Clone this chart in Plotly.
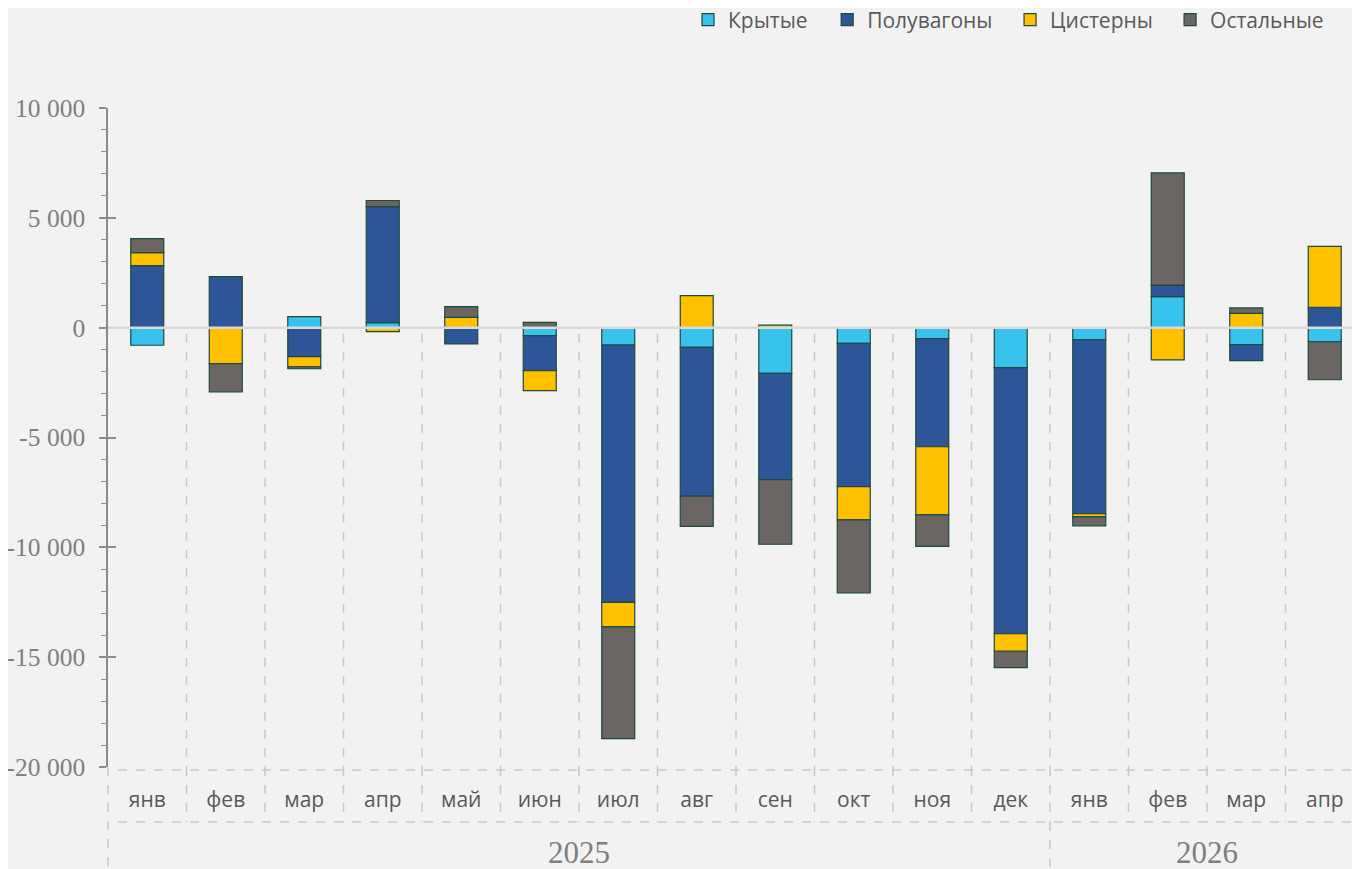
import plotly.graph_objects as go

months = ["янв", "фев", "мар", "апр", "май", "июн", "июл", "авг", "сен", "окт", "ноя", "дек",
          "янв", "фев", "мар", "апр"]
years = ["2025", "2026"]
year_month_counts = [12, 4]

krytye = [-800, 0, 500, 230, 0, -360, -790, -900, -2080, -710, -500, -1820, -550, 1410, -770, -640]
poluvagony = [2820, 2320, -1320, 5280, -740, -1600, -11720, -6770, -4840, -6530, -4920, -12110,
              -7920, 530, -730, 930]
cisterny = [600, -1640, -460, -180, 470, -910, -1110, 1460, 120, -1510, -3100, -800,
            -140, -1470, 650, 2770]
ostalnye = [630, -1280, -90, 280, 490, 240, -5090, -1380, -2940, -3320, -1440, -750,
            -410, 5110, 250, -1730]

series_names = ["Крытые", "Полувагоны", "Цистерны", "Остальные"]
series_values = [krytye, poluvagony, cisterny, ostalnye]
colors = ["#38c2ee", "#2e5597", "#ffc000", "#6b6664"]
legend_x = [0.4618, 0.5726, 0.7182, 0.8456]

y_ticks = [-20000, -15000, -10000, -5000, 0, 5000, 10000]

BG = "#f2f2f2"
GRID = "#c8c8c8"
AX = "#8c8c8c"

x = list(range(len(months)))

fig = go.Figure()
legend_layout = {}
for k, (name, vals, col, lx) in enumerate(zip(series_names, series_values, colors, legend_x)):
    lname = "legend" if k == 0 else f"legend{k + 1}"
    fig.add_trace(go.Bar(
        x=x, y=vals, name=name, legend=lname,
        marker=dict(color=col, line=dict(color="#1e4a3c", width=1.2)),
    ))
    legend_layout[lname] = dict(orientation="h", x=lx, xanchor="left", y=1.1335, yanchor="middle",
                                font=dict(family="Open Sans", size=21, color="#595959"),
                                bgcolor="rgba(0,0,0,0)")

def fmt(v):
    return f"{v:,}".replace(",", " ")

fig.update_layout(
    width=1360, height=869,
    paper_bgcolor=BG, plot_bgcolor=BG,
    barmode="relative", bargap=0.58,
    margin=dict(l=100, r=4, t=100, b=110, autoexpand=False),
    showlegend=True,
    xaxis=dict(range=[-0.5, len(months) - 0.5], tickvals=x, ticktext=months,
               showgrid=False, zeroline=False, showline=False, ticks="",
               tickfont=dict(family="Open Sans", size=21, color="#595959"),
               ticklabelstandoff=18),
    yaxis=dict(range=[-20000, 10000], tickvals=y_ticks, ticktext=[fmt(v) for v in y_ticks],
               showgrid=False, zeroline=False, showline=True, linecolor=AX, linewidth=1.5,
               ticks="outside", ticklen=7, tickcolor=AX, tickwidth=1.5,
               minor=dict(dtick=1000, ticks="outside", ticklen=5, tickcolor=AX, tickwidth=1.2),
               tickfont=dict(family="Liberation Serif", size=25.5, color="#7f7f7f"),
               ticklabelstandoff=9),
    yaxis2=dict(range=[-20000, 10000], overlaying="y", side="left", tickvals=y_ticks,
                showticklabels=False, showgrid=False, zeroline=False, showline=False,
                ticks="inside", ticklen=8, tickcolor=AX, tickwidth=1.5),
    **legend_layout,
)
# invisible trace to show the secondary (inside tick) axis
fig.add_trace(go.Scatter(x=[0], y=[0], yaxis="y2", mode="markers",
                         marker=dict(opacity=0), showlegend=False, hoverinfo="skip"))

shapes = []
# zero line over bars
shapes.append(dict(type="line", xref="paper", yref="y", x0=0, x1=1, y0=0, y1=0,
                   line=dict(color="#d9d9d9", width=2.5), layer="above"))
# month separators
for i in range(len(months) - 1):
    xb = i + 0.5
    shapes.append(dict(type="line", xref="x", yref="y", x0=xb, x1=xb, y0=-280, y1=-20000,
                       line=dict(color=GRID, width=1.5, dash="dash"), layer="below"))
    shapes.append(dict(type="line", xref="x", yref="paper", x0=xb, x1=xb, y0=0, y1=-0.0835,
                       line=dict(color=GRID, width=1.5, dash="dash"), layer="below"))
# year separator through year row
start = 0
for cnt in year_month_counts[:-1]:
    start += cnt
    xb = start - 0.5
    shapes.append(dict(type="line", xref="x", yref="paper", x0=xb, x1=xb, y0=-0.0835, y1=-0.167,
                       line=dict(color=GRID, width=1.5, dash="dash"), layer="below"))
# horizontal dashed rows
for yp in [-0.0046, -0.0835]:
    shapes.append(dict(type="line", xref="paper", yref="paper", x0=0.008, x1=1, y0=yp, y1=yp,
                       line=dict(color=GRID, width=1.5, dash="dash"), layer="below"))
# left dashed continuation
shapes.append(dict(type="line", xref="paper", yref="paper", x0=0, x1=0, y0=0, y1=-0.167,
                   line=dict(color=GRID, width=1.5, dash="dash"), layer="below"))
fig.update_layout(shapes=shapes)

annotations = []
start = 0
for yr, cnt in zip(years, year_month_counts):
    center = start + (cnt - 1) / 2
    annotations.append(dict(text=yr, x=center, xref="x", y=-0.129, yref="paper",
                            showarrow=False, yanchor="middle",
                            font=dict(family="Liberation Serif", size=31, color="#7f7f7f")))
    start += cnt
fig.update_layout(annotations=annotations)

fig.write_html("out.html")
